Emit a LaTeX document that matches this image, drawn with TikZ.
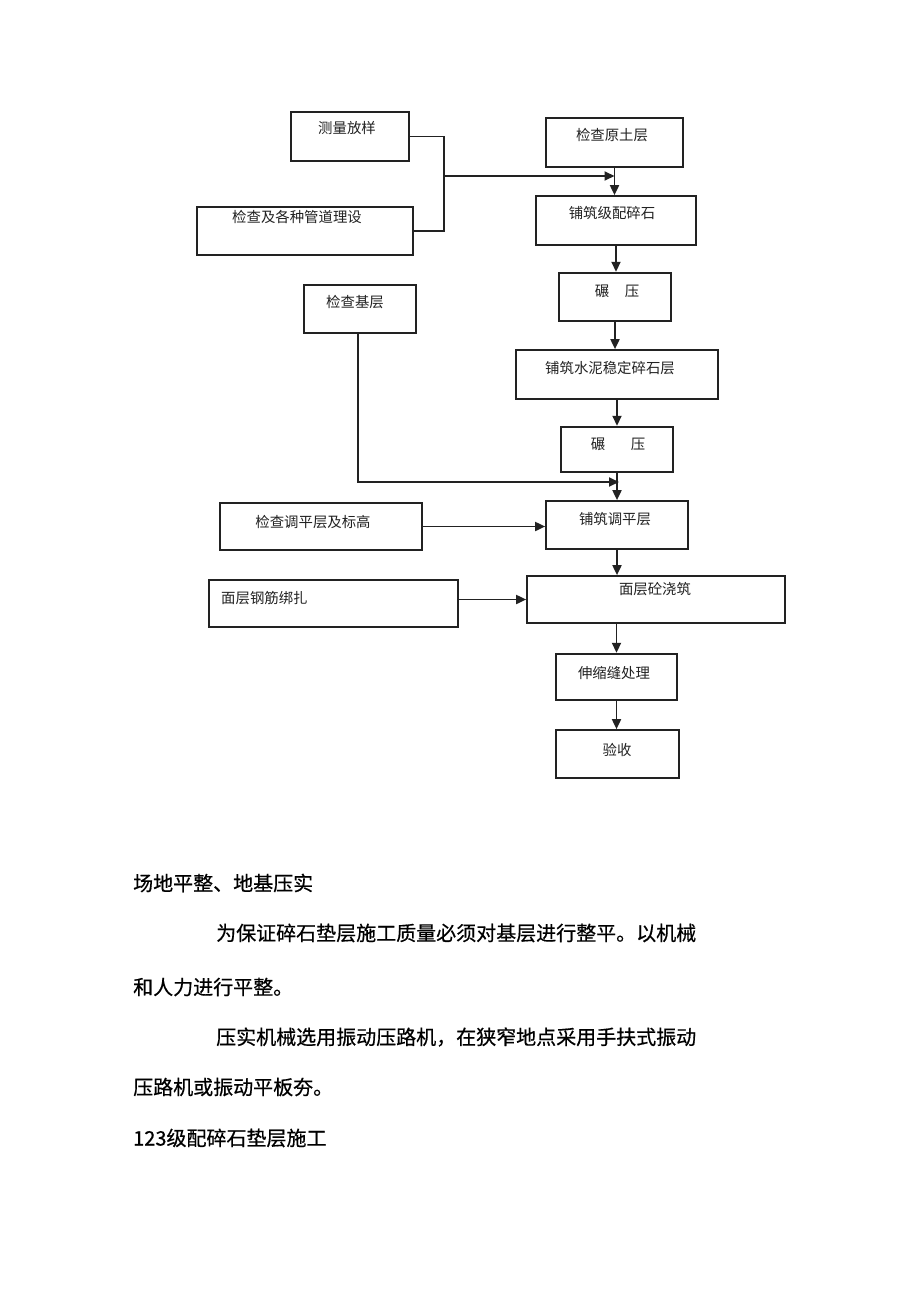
\documentclass[tikz,border=0pt]{standalone}
\usepackage{fontspec}
\setmainfont{Noto Sans CJK SC}
\newfontfamily\bodyfont[FakeBold=0.6]{Noto Sans CJK SC}
\usetikzlibrary{arrows.meta}
\definecolor{ink}{HTML}{222222}
\begin{document}
\begin{tikzpicture}[x=1pt,y=-1pt,
  boxbase/.style={draw=ink,rectangle,inner sep=0pt,fill=none},
  thickbox/.style={boxbase,line width=2.4pt},
  midbox/.style={boxbase,line width=1.7pt},
  thinbox/.style={boxbase,line width=1.1pt},
  ftxt/.style={inner sep=0pt,font=\fontsize{14.4}{17}\selectfont,text=ink},
  btxt/.style={inner sep=0pt,anchor=west,font=\bodyfont\fontsize{20}{24}\selectfont,text=black},
  link/.style={draw=ink,line width=1.8pt},
  arr/.style={link,-{Triangle[length=10pt,width=9pt]}}
]
\useasboundingbox (0,0) rectangle (920,1303);
\fill[white] (0,0) rectangle (920,1303);

% boxes
\node[thickbox,minimum width=118pt,minimum height=49pt] (clfy) at (350,136.5) {};
\node[midbox,minimum width=137pt,minimum height=49pt] (jcyt) at (614.5,142.5) {};
\node[thickbox,minimum width=216pt,minimum height=48pt] (jcgd) at (305,231) {};
\node[midbox,minimum width=160pt,minimum height=49pt] (pzjp) at (616,220.5) {};
\node[thickbox,minimum width=112pt,minimum height=48pt] (nya) at (615,297) {};
\node[thinbox,minimum width=112pt,minimum height=48pt] (jcjc) at (360,309) {};
\node[midbox,minimum width=202pt,minimum height=49pt] (pzsn) at (617,374.5) {};
\node[thickbox,minimum width=112pt,minimum height=45pt] (nyb) at (617,449.5) {};
\node[midbox,minimum width=142pt,minimum height=48pt] (pztp) at (617,525) {};
\node[thickbox,minimum width=202pt,minimum height=47pt] (jctp) at (321,526.5) {};
\node[thinbox,minimum width=249pt,minimum height=47pt] (gj) at (333.5,603.5) {};
\node[midbox,minimum width=258pt,minimum height=47pt] (zj) at (656,599.5) {};
\node[thickbox,minimum width=121pt,minimum height=46pt] (ssf) at (616.5,677) {};
\node[midbox,minimum width=123pt,minimum height=48pt] (ys) at (617.5,754) {};

% box texts
\node[ftxt] (t1) at (347,128) {测量放样};
\node[ftxt] (t2) at (612,135) {检查原土层};
\node[ftxt] (t3) at (297,217) {检查及各种管道理设};
\node[ftxt] (t4) at (612,213) {铺筑级配碎石};
\node[ftxt] (t5) at (617,291) {碾\hspace{15.6pt}压};
\node[ftxt] (t6) at (355,302) {检查基层};
\node[ftxt] (t7) at (610,368) {铺筑水泥稳定碎石层};
\node[ftxt] (t8) at (618,444) {碾\hspace{25.6pt}压};
\node[ftxt] (t9) at (615,519) {铺筑调平层};
\node[ftxt] (t10) at (313,522) {检查调平层及标高};
\node[ftxt] (t11) at (655,589) {面层砼浇筑};
\node[ftxt,anchor=west] (t12) at (221,598) {面层钢筋绑扎};
\node[ftxt] (t13) at (614,673) {伸缩缝处理};
\node[ftxt] (t14) at (617,750) {验收};

% connectors
\coordinate (j1) at (444,176);
\coordinate (j2) at (619,482);
\draw[link] (clfy.east) -| (j1) |- (jcgd.east);
\draw[arr] (j1) -- (jcyt.south |- j1);
\draw[arr] (jcyt.south) -- (jcyt.south |- pzjp.north);
\draw[arr] (pzjp.south) -- (pzjp.south |- nya.north);
\draw[arr] (nya.south) -- (nya.south |- pzsn.north);
\draw[arr] (pzsn.south) -- (pzsn.south |- nyb.north);
\draw[arr] (nyb.south) -- (nyb.south |- pztp.north);
\draw[arr] ([xshift=-2pt]jcjc.south) |- (j2);
\draw[arr] (jctp.east) -- (pztp.west |- jctp.east);
\draw[arr] (pztp.south) -- (pztp.south |- zj.north);
\draw[arr] (gj.east |- zj.west) -- (zj.west);
\draw[arr] (ssf.north |- zj.south) -- (ssf.north);
\draw[arr] (ssf.south) -- (ssf.south |- ys.north);

% body text
\node[btxt] (p1) at (133,883) {场地平整、地基压实};
\node[btxt] (p2) at (216,933) {为保证碎石垫层施工质量必须对基层进行整平。以机械};
\node[btxt] (p3) at (133,987) {和人力进行平整。};
\node[btxt] (p4) at (216,1037) {压实机械选用振动压路机，在狭窄地点采用手扶式振动};
\node[btxt] (p5) at (133,1087) {压路机或振动平板夯。};
\node[btxt] (p6) at (133,1138) {123级配碎石垫层施工};
\end{tikzpicture}
\end{document}
